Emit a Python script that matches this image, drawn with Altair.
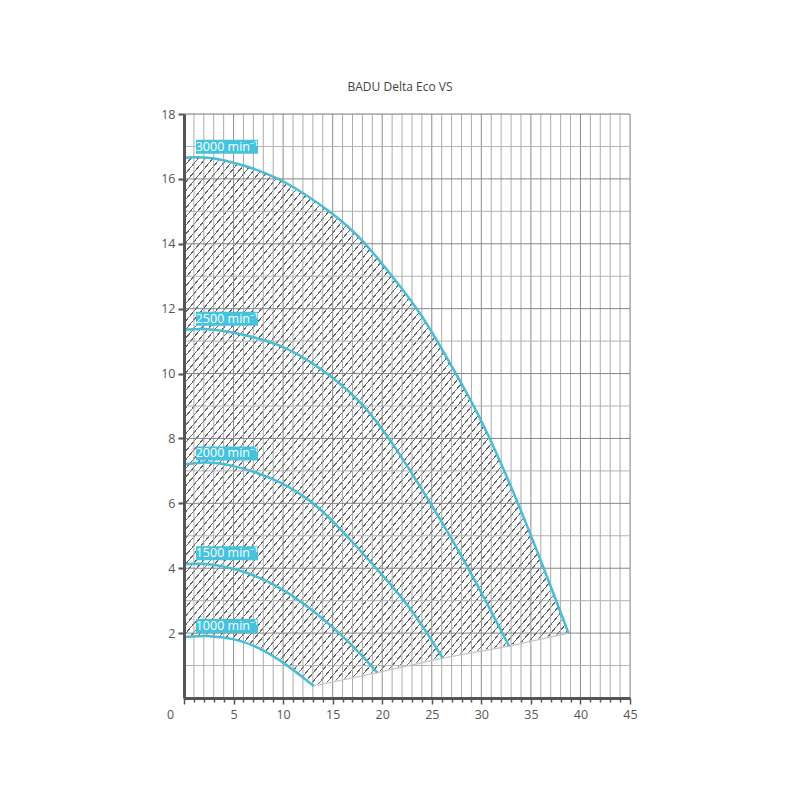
import altair as alt
import pandas as pd

# ---------------- data ----------------
title_text = "BADU Delta Eco VS"

x_tick_values = list(range(0, 46))
y_label_values = [2, 4, 6, 8, 10, 12, 14, 16, 18]
x_grid_values = list(range(0, 46))
y_grid_values = list(range(0, 19))

speed_labels = ["3000 min⁻¹", "2500 min⁻¹", "2000 min⁻¹", "1500 min⁻¹", "1000 min⁻¹"]

rpm3000_x = [0, 2.5, 6, 10, 15, 18, 21, 24, 27.5, 30, 33, 35.6, 38.8]
rpm3000_y = [16.65, 16.7, 16.43, 16.0, 14.95, 14.15, 13.0, 11.85, 9.96, 8.6, 6.55, 4.56, 2.0]

rpm2500_x = [0, 2, 4.6, 9.7, 13.7, 17.8, 21, 24.8, 28.5, 32.8]
rpm2500_y = [11.35, 11.4, 11.3, 10.94, 10.2, 9.2, 7.9, 6.05, 4.15, 1.6]

rpm2000_x = [0, 2, 4.6, 9.7, 13.7, 17.1, 19.8, 23.1, 26.1]
rpm2000_y = [7.2, 7.28, 7.22, 6.72, 5.9, 4.77, 3.87, 2.71, 1.23]

rpm1500_x = [0, 2.5, 6.3, 9.7, 13, 15.7, 17.8, 19.5]
rpm1500_y = [4.12, 4.17, 3.9, 3.43, 2.71, 2.0, 1.37, 0.78]

rpm1000_x = [0, 2.5, 5, 7.3, 10, 13.1]
rpm1000_y = [1.88, 1.93, 1.84, 1.6, 1.12, 0.37]

# lower limit line joining the curve ends
limit_x = [13.1, 19.5, 26.1, 32.8, 38.8]
limit_y = [0.37, 0.78, 1.23, 1.6, 2.0]

# ---------------- tables ----------------
curve_sets = [
    (speed_labels[0], rpm3000_x, rpm3000_y),
    (speed_labels[1], rpm2500_x, rpm2500_y),
    (speed_labels[2], rpm2000_x, rpm2000_y),
    (speed_labels[3], rpm1500_x, rpm1500_y),
    (speed_labels[4], rpm1000_x, rpm1000_y),
]
rows = []
for name, xs, ys in curve_sets:
    for i, (a, b) in enumerate(zip(xs, ys)):
        rows.append({"speed": name, "i": i, "x": a, "y": b})
curves = pd.DataFrame(rows)
labels = pd.DataFrame([{"speed": n, "x": xs[0], "y": ys[0]} for n, xs, ys in curve_sets])
top_df = pd.DataFrame({"x": rpm3000_x, "y": rpm3000_y})
low1000_df = pd.DataFrame({"x": rpm1000_x, "y": rpm1000_y})
limit_df = pd.DataFrame({"x": limit_x, "y": limit_y})
xgrid_df = pd.DataFrame({"v": x_grid_values})
ygrid_df = pd.DataFrame({"v": y_grid_values})

# ---------------- styling ----------------
W, H = 446, 584
FONT = "Open Sans"
CURVE = "#47bdd6"
BOX = "#45c3de"
AXIS_COL = "#555555"
INTERP = "basis"

# hatch made from a striped linear gradient (bbox units)
bbox_w = max(rpm3000_x) / 45 * W
bbox_h = max(rpm3000_y) / 18 * H
gx, gy = 0.93, 1.1
g2 = gx * gx + gy * gy
dt_px = gx / (bbox_w * g2)
period = 7.3 * dt_px
lw = 1.35 * dt_px
HATCH = "#666666"
stops = []
o = 0.0
while o + lw < 1.0:
    stops += [
        {"offset": round(o, 6), "color": "#ffffff"},
        {"offset": round(o, 6), "color": HATCH},
        {"offset": round(o + lw, 6), "color": HATCH},
        {"offset": round(o + lw, 6), "color": "#ffffff"},
    ]
    o += period
stops.append({"offset": 1.0, "color": "#ffffff"})
hatch = {"gradient": "linear", "x1": 0, "y1": 0, "x2": gx, "y2": gy, "stops": stops}

xscale = alt.Scale(domain=[0, 45], nice=False, zero=False)
yscale = alt.Scale(domain=[0, 18], nice=False, zero=False)

xaxis = alt.Axis(
    values=x_tick_values,
    grid=False,
    labelExpr="datum.value % 5 == 0 ? datum.label : ''",
    labelFlush=False,
    tickSize={"condition": {"test": "datum.value % 5 == 0", "value": 6}, "value": 4},
    tickWidth=1.5,
    tickColor=AXIS_COL,
    domainColor=AXIS_COL,
    domainWidth=3,
    labelColor="#555555",
    labelFont=FONT,
    labelFontSize=12.5,
    labelPadding=4,
    labelOffset={"condition": {"test": "datum.value == 0", "value": -14}, "value": 0},
    zindex=1,
)
yaxis = alt.Axis(
    values=y_label_values,
    grid=False,
    labelFlush=False,
    tickSize=6,
    tickWidth=2,
    tickColor=AXIS_COL,
    domainColor=AXIS_COL,
    domainWidth=3,
    labelColor="#555555",
    labelFont=FONT,
    labelFontSize=12.5,
    labelPadding=3,
    zindex=1,
)


def X(field="x"):
    return alt.X(f"{field}:Q", scale=xscale, axis=xaxis, title=None)


def Y(field="y"):
    return alt.Y(f"{field}:Q", scale=yscale, axis=yaxis, title=None)


hatched = alt.Chart(top_df).mark_area(fill=hatch, interpolate=INTERP).encode(
    x=X(), y=Y(), y2=alt.Y2(datum=0)
)
white1 = alt.Chart(low1000_df).mark_area(
    color="white", stroke="white", strokeWidth=2, interpolate=INTERP
).encode(x=X(), y=Y(), y2=alt.Y2(datum=0))
white2 = alt.Chart(limit_df).mark_area(
    color="white", stroke="white", strokeWidth=2
).encode(x=X(), y=Y(), y2=alt.Y2(datum=0))

vgrid = alt.Chart(xgrid_df).mark_rule(strokeWidth=1).encode(
    x=alt.X("v:Q", scale=xscale, axis=xaxis, title=None),
    y=alt.Y(datum=0, scale=yscale, axis=yaxis, title=None),
    y2=alt.Y2(datum=18),
    color=alt.condition("datum.v % 5 == 0", alt.value("#8c8c8c"), alt.value("#ababab")),
)
hgrid = alt.Chart(ygrid_df).mark_rule(strokeWidth=1).encode(
    y=alt.Y("v:Q", scale=yscale, axis=yaxis, title=None),
    x=alt.X(datum=0, scale=xscale, axis=xaxis, title=None),
    x2=alt.X2(datum=45),
    color=alt.condition("datum.v % 2 == 0", alt.value("#858585"), alt.value("#b3b3b3")),
)

limit_line = alt.Chart(limit_df).mark_line(color="#c4c4c4", strokeWidth=1.2).encode(
    x=X(), y=Y()
)

lines = alt.Chart(curves).mark_line(
    color=CURVE, strokeWidth=2.5, interpolate=INTERP
).encode(x=X(), y=Y(), detail="speed:N", order="i:Q")

boxes = alt.Chart(labels).mark_rect(
    color=BOX, width=62, height=14, xOffset=43, yOffset=-11
).encode(x=X(), y=Y())

texts = alt.Chart(labels).mark_text(
    color="white", font=FONT, fontSize=12.5, dx=43, dy=-11, align="center", baseline="middle"
).encode(x=X(), y=Y(), text="speed:N")

chart = (
    alt.layer(hatched, white1, white2, vgrid, hgrid, limit_line, lines, boxes, texts)
    .properties(
        width=W,
        height=H,
        autosize=alt.AutoSizeParams(type="none"),
        padding={"left": 176, "top": 106, "right": 60, "bottom": 80},
        title=alt.TitleParams(
            title_text, font=FONT, fontSize=12, fontWeight="normal", color="#444444",
            offset=14, dx=-7, anchor="middle",
        ),
    )
    .configure_view(stroke=None)
    .configure(background="white")
)

chart.save("out.html", embed_options={"renderer": "svg", "actions": False})
